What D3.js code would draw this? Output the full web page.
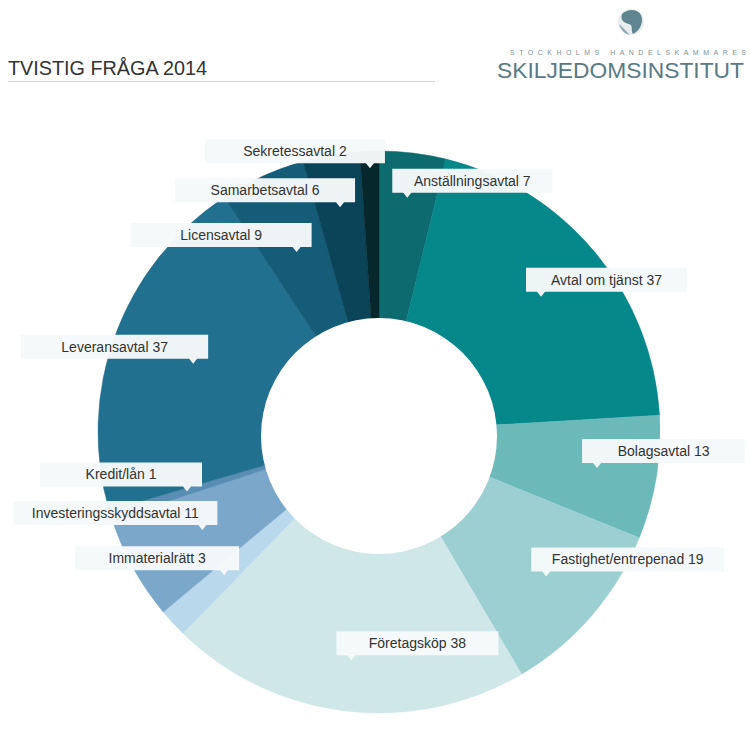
<!DOCTYPE html>
<html>
<head>
<meta charset="utf-8">
<script src="https://cdn.jsdelivr.net/npm/d3@7"></script>
<style>
  body { margin: 0; background: #fff; }
  text { font-family: "Liberation Sans", Arial, sans-serif; }
</style>
</head>
<body>
<script>
// chart data (clockwise from 12 o'clock)
var categories = ["Anställningsavtal", "Avtal om tjänst", "Bolagsavtal", "Fastighet/entrepenad",
  "Företagsköp", "Immaterialrätt", "Investeringsskyddsavtal", "Kredit/lån",
  "Leveransavtal", "Licensavtal", "Samarbetsavtal", "Sekretessavtal"];
var counts = [7, 37, 13, 19, 38, 3, 11, 1, 37, 9, 6, 2];
var colors = ["#0d6b6f", "#06878a", "#6cb9ba", "#9bcfd1", "#cfe7e9", "#b9d8ec",
  "#7ba8ca", "#5a8db3", "#22708f", "#155c79", "#0b4459", "#06282d"];

// label layout: distance of the pointer tip from the centre, box width
var labelR = [236, 211, 221, 221, 230, 211, 202, 201, 198, 198, 228, 264];
var labelW = [160, 161, 163, 193, 162, 164, 204, 162, 187, 181, 180, 180];

var W = 751, H = 733;
var cx = 379, cy = 432, outerR = 281, innerR = 118;

var svg = d3.select("body").append("svg")
    .attr("width", W)
    .attr("height", H);

// header
svg.append("text")
    .attr("x", 8)
    .attr("y", 75)
    .attr("textLength", 199)
    .attr("lengthAdjust", "spacingAndGlyphs")
    .style("font-size", "21px")
    .style("fill", "#333")
    .text("TVISTIG FRÅGA 2014");

svg.append("line")
    .attr("x1", 8).attr("x2", 435)
    .attr("y1", 81.5).attr("y2", 81.5)
    .style("stroke", "#d4d4d4")
    .style("stroke-width", 1);

// logo
var logo = svg.append("g");
logo.append("circle")
    .attr("cx", 631).attr("cy", 22).attr("r", 13)
    .style("fill", "#e8eef0");
logo.append("path")
    .attr("d", "M622,14 C628,8 638,9 641,15 C644,22 640,31 633,34 C630,30 634,26 629,24 C624,23 620,20 622,14 Z")
    .style("fill", "#5f8590");
logo.append("path")
    .attr("d", "M619,24 C621,30 625,34 630,35 C626,31 623,28 619,24 Z")
    .style("fill", "#8aa6ae");
logo.append("text")
    .attr("x", 510).attr("y", 55)
    .attr("textLength", 236)
    .attr("lengthAdjust", "spacing")
    .style("font-size", "7px")
    .style("fill", "#7a9097")
    .text("STOCKHOLMS HANDELSKAMMARES");
logo.append("text")
    .attr("x", 497).attr("y", 78)
    .attr("textLength", 247)
    .attr("lengthAdjust", "spacingAndGlyphs")
    .style("font-size", "22px")
    .style("fill", "#577a85")
    .text("SKILJEDOMSINSTITUT");

// donut
var data = categories.map(function(c, i) {
  return {name: c, value: counts[i], color: colors[i], r: labelR[i], w: labelW[i]};
});

var pie = d3.pie()
    .value(function(d) { return d.value; })
    .sort(null);

var arcs = pie(data);

var arc = d3.arc()
    .innerRadius(0)
    .outerRadius(outerR);

var g = svg.append("g")
    .attr("transform", "translate(" + cx + "," + cy + ")");

g.selectAll(".slice")
    .data(arcs)
  .enter().append("path")
    .attr("class", "slice")
    .attr("d", arc)
    .style("fill", function(d) { return d.data.color; })
    .style("stroke", function(d) { return d.data.color; })
    .style("stroke-width", 0.5);

// hole (sits a few pixels low in the original)
g.append("circle")
    .attr("cx", 0).attr("cy", 4)
    .attr("r", innerR)
    .style("fill", "#fff");

// callout labels: boxes on the left half hang to the left of their pointer
var boxH = 24;
function midAngle(d) { return (d.startAngle + d.endAngle) / 2; }
function boxLeft(d) {
  return midAngle(d) > Math.PI * 1.15 ? -d.data.w + 15 : -15;
}

var labels = g.selectAll(".label")
    .data(arcs)
  .enter().append("g")
    .attr("class", "label")
    .attr("transform", function(d) {
      var a = midAngle(d);
      return "translate(" + (d.data.r * Math.sin(a)) + "," + (-d.data.r * Math.cos(a)) + ")";
    });

labels.append("path")
    .attr("d", function(d) {
      var left = boxLeft(d), top = -5 - boxH;
      return "M" + left + "," + top + "h" + d.data.w + "v" + boxH +
        "H4L0,0L-4,-5H" + left + "Z";
    })
    .style("fill", "#f6f9f9")
    .style("fill-opacity", 0.97);

labels.append("text")
    .attr("x", function(d) { return boxLeft(d) + d.data.w / 2; })
    .attr("y", -5 - boxH / 2 + 5)
    .style("text-anchor", "middle")
    .style("font-size", "14px")
    .style("fill", "#333")
    .text(function(d) { return d.data.name + " " + d.data.value; });
</script>
</body>
</html>
